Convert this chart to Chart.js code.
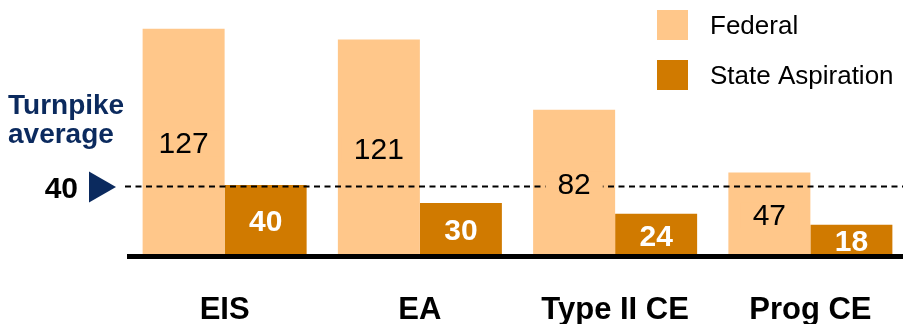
<!DOCTYPE html>
<html>
<head>
<meta charset="utf-8">
<script src="https://cdn.jsdelivr.net/npm/chart.js@4/dist/chart.umd.min.js"></script>
<style>
  html, body { margin: 0; padding: 0; background: #fff; overflow: hidden; }
  #wrap { position: absolute; left: 0; top: 0; width: 912px; height: 324px; }
</style>
</head>
<body>
<div id="wrap"><canvas id="c" width="912" height="324"></canvas></div>
<script>
const categories = ["EIS", "EA", "Type II CE", "Prog CE"];
const federalValues = [127, 121, 82, 47];
const stateValues = [40, 30, 24, 18];
const seriesNames = ["Federal", "State Aspiration"];
const turnpikeAverage = 40;
const averageLabelLines = ["Turnpike", "average"];

const FED = "#FFC78A";
const STATE = "#D07A00";
const NAVY = "#0B2A5E";
const FONT = "'Liberation Sans', Arial, sans-serif";

const overlay = {
  id: "overlay",
  afterDatasetsDraw(chart) {
    const ctx = chart.ctx;
    const y = chart.scales.y.getPixelForValue(turnpikeAverage) + 1.5;
    const base = chart.scales.y.getPixelForValue(0);
    ctx.save();
    // baseline axis
    ctx.fillStyle = "#000";
    ctx.fillRect(127, base - 3, 776, 5);
    // dashed average line
    ctx.strokeStyle = "#000";
    ctx.lineWidth = 2;
    ctx.setLineDash([6, 4.5]);
    ctx.beginPath();
    ctx.moveTo(125, y);
    ctx.lineTo(912, y);
    ctx.stroke();
    ctx.setLineDash([]);
    // value labels
    chart.data.datasets.forEach((ds, di) => {
      const meta = chart.getDatasetMeta(di);
      meta.data.forEach((el, i) => {
        const cx = el.x;
        const cy = (el.y + el.base) / 2;
        const txt = String(ds.data[i]);
        if (di === 0) {
          ctx.font = "30px " + FONT;
          const w = ctx.measureText(txt).width;
          ctx.fillStyle = FED;
          ctx.fillRect(cx - w / 2 - 12, cy - 12, w + 24, 26);
          ctx.fillStyle = "#000";
        } else {
          ctx.font = "bold 30px " + FONT;
          ctx.fillStyle = "#fff";
        }
        ctx.textAlign = "center";
        ctx.textBaseline = "middle";
        ctx.fillText(txt, cx, cy + 2);
      });
    });
    ctx.restore();
  },
  afterDraw(chart) {
    const ctx = chart.ctx;
    const y = chart.scales.y.getPixelForValue(turnpikeAverage) + 1.5;
    ctx.save();
    // left annotation
    ctx.fillStyle = NAVY;
    ctx.font = "bold 28px " + FONT;
    ctx.textAlign = "left";
    ctx.textBaseline = "alphabetic";
    ctx.fillText(averageLabelLines[0], 8, 114);
    ctx.fillText(averageLabelLines[1], 8, 143);
    ctx.fillStyle = "#000";
    ctx.font = "bold 30px " + FONT;
    ctx.textAlign = "right";
    ctx.textBaseline = "middle";
    ctx.fillText(String(turnpikeAverage), 78, y + 3);
    ctx.fillStyle = NAVY;
    ctx.beginPath();
    ctx.moveTo(89, y - 15);
    ctx.lineTo(89, y + 16);
    ctx.lineTo(116, y + 0.5);
    ctx.closePath();
    ctx.fill();
    // legend
    const colors = [FED, STATE];
    const boxes = [10, 60];
    ctx.font = "26px " + FONT;
    ctx.textAlign = "left";
    ctx.textBaseline = "middle";
    for (let i = 0; i < 2; i++) {
      ctx.fillStyle = colors[i];
      ctx.fillRect(657, boxes[i], 31, 30);
      ctx.fillStyle = "#000";
      ctx.fillText(seriesNames[i], 710, boxes[i] + 17);
    }
    ctx.restore();
  }
};

new Chart(document.getElementById("c"), {
  type: "bar",
  data: {
    labels: categories,
    datasets: [
      { label: seriesNames[0], data: federalValues, backgroundColor: FED, barPercentage: 1, categoryPercentage: 0.84 },
      { label: seriesNames[1], data: stateValues, backgroundColor: STATE, barPercentage: 1, categoryPercentage: 0.84 }
    ]
  },
  options: {
    responsive: false,
    animation: false,
    devicePixelRatio: 1,
    layout: { padding: { left: 127, right: 4, top: 0, bottom: 0 } },
    plugins: { legend: { display: false }, tooltip: { enabled: false } },
    scales: {
      y: { display: false, min: 0, max: 143 },
      x: {
        grid: { display: false },
        border: { display: false },
        ticks: {
          color: "#000",
          font: { family: FONT, size: 31, weight: "bold" },
          padding: 27,
          maxRotation: 0,
          autoSkip: false
        },
        afterFit(scale) { scale.height = 67; }
      }
    }
  },
  plugins: [overlay]
});
</script>
</body>
</html>
